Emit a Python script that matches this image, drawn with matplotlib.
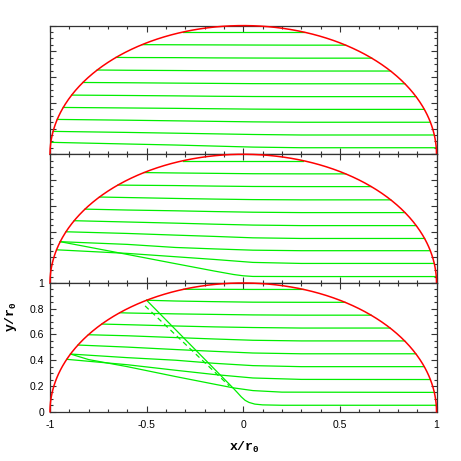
import numpy as np
import matplotlib
matplotlib.use("Agg")
import matplotlib.pyplot as plt
from matplotlib.ticker import MultipleLocator, FuncFormatter

plt.rcParams['mathtext.fontset'] = 'custom'
plt.rcParams['mathtext.rm'] = 'Liberation Mono'
plt.rcParams['mathtext.bf'] = 'Liberation Mono:bold'
plt.rcParams['font.family'] = ['Liberation Sans', 'DejaVu Sans']

# ---------------- data ----------------
# x positions of intermediate samples of each streamline
grid_x = [-0.6, -0.35, -0.15, 0.05, 0.3]

# top panel: start height (left rim), values on grid_x, end height (right rim)
top_start = [0.950, 0.852, 0.753, 0.655, 0.558, 0.460, 0.364, 0.271, 0.178, 0.093]
top_mid = [
    [None, None, 0.950, 0.950, 0.950],
    [None, 0.851, 0.850, 0.849, 0.848],
    [0.752, 0.751, 0.749, 0.748, 0.747],
    [0.653, 0.651, 0.649, 0.648, 0.647],
    [0.556, 0.553, 0.551, 0.549, 0.548],
    [0.457, 0.454, 0.451, 0.449, 0.448],
    [0.360, 0.357, 0.354, 0.351, 0.349],
    [0.265, 0.260, 0.256, 0.252, 0.249],
    [0.170, 0.164, 0.159, 0.154, 0.150],
    [0.080, 0.072, 0.064, 0.056, 0.051],
]
top_end = [0.950, 0.848, 0.747, 0.647, 0.548, 0.448, 0.349, 0.249, 0.150, 0.051]

# middle panel
mid_start = [0.951, 0.858, 0.761, 0.668, 0.574, 0.484, 0.398, 0.321, 0.258]
mid_mid = [
    [None, None, 0.951, 0.951, 0.951],
    [None, 0.855, 0.852, 0.849, 0.848],
    [0.760, 0.757, 0.753, 0.750, 0.749],
    [0.664, 0.657, 0.652, 0.648, 0.646],
    [0.567, 0.561, 0.555, 0.550, 0.547],
    [0.474, 0.465, 0.457, 0.450, 0.446],
    [0.385, 0.372, 0.362, 0.351, 0.346],
    [0.300, 0.276, 0.265, 0.255, 0.251],
    [0.230, 0.204, 0.183, 0.160, 0.152],
]
mid_end = [0.951, 0.848, 0.749, 0.646, 0.547, 0.446, 0.346, 0.251, 0.152]
# middle panel plunging streamline
mid_steep_start = 0.321
mid_steep_x = [-0.6, -0.35, -0.15, -0.05, 0.0, 0.05, 0.3]
mid_steep_y = [0.222, 0.150, 0.093, 0.066, 0.056, 0.051, 0.050]
mid_steep_end = 0.050

# bottom panel
bot_start = [0.951, 0.866, 0.769, 0.681, 0.598, 0.518, 0.448, 0.407]
bot_mid = [
    [None, None, 0.951, 0.950, 0.950],
    [None, 0.860, 0.855, 0.851, 0.850],
    [0.767, 0.760, 0.756, 0.752, 0.750],
    [0.676, 0.666, 0.659, 0.654, 0.650],
    [0.590, 0.576, 0.565, 0.555, 0.550],
    [0.502, 0.483, 0.469, 0.456, 0.450],
    [0.420, 0.400, 0.376, 0.358, 0.350],
    [0.365, 0.322, 0.289, 0.262, 0.251],
]
bot_end = [0.950, 0.850, 0.750, 0.650, 0.550, 0.450, 0.350, 0.250]
# bottom panel: branch from the 0.448 start point down to 0.15
bot_branch_start = 0.448
bot_branch_x = [-0.8, -0.6, -0.35, -0.15, -0.05, 0.05, 0.2]
bot_branch_y = [0.405, 0.350, 0.273, 0.214, 0.185, 0.164, 0.152]
bot_branch_end = 0.150
# bottom panel plunging streamline
bot_steep_start = 0.866
bot_steep_x = [-0.05, -0.03, -0.01, 0.01, 0.03, 0.06, 0.1, 0.2]
bot_steep_y = [0.180, 0.148, 0.115, 0.088, 0.072, 0.059, 0.053, 0.050]
bot_steep_end = 0.050
# dashed reference trajectory
dash_x = [-0.508, -0.072]
dash_y = [0.822, 0.200]

GREEN = '#00ee00'
RED = '#ff0000'

# ---------------- figure ----------------
fig = plt.figure(figsize=(4.61, 4.61), dpi=100)
L, W, H = 50 / 461, 386.5 / 461, 128.7 / 461
B0 = 1 - 411.7 / 461
axes = [fig.add_axes([L, B0 + 2 * H, W, H]),
        fig.add_axes([L, B0 + H, W, H]),
        fig.add_axes([L, B0, W, H])]


def rim_line(ax, y0, mids, y1, xs_custom=None, **kw):
    xs = [-np.sqrt(1 - y0 ** 2)]
    ys = [y0]
    gx = grid_x if xs_custom is None else xs_custom
    for x, y in zip(gx, mids):
        if y is None:
            continue
        xs.append(x)
        ys.append(y)
    xs.append(np.sqrt(1 - y1 ** 2))
    ys.append(y1)
    ax.plot(xs, ys, color=GREEN, lw=0.9, **kw)


for y0, m, y1 in zip(top_start, top_mid, top_end):
    rim_line(axes[0], y0, m, y1)
for y0, m, y1 in zip(mid_start, mid_mid, mid_end):
    rim_line(axes[1], y0, m, y1)
rim_line(axes[1], mid_steep_start, mid_steep_y, mid_steep_end, xs_custom=mid_steep_x)
for y0, m, y1 in zip(bot_start, bot_mid, bot_end):
    rim_line(axes[2], y0, m, y1)
rim_line(axes[2], bot_branch_start, bot_branch_y, bot_branch_end, xs_custom=bot_branch_x)
rim_line(axes[2], bot_steep_start, bot_steep_y, bot_steep_end, xs_custom=bot_steep_x)
axes[2].plot(dash_x, dash_y, color=GREEN, lw=0.9, ls=(0, (4, 3)))

theta = np.linspace(0, np.pi, 400)
fmt = FuncFormatter(lambda v, p: f'{v:g}')
for i, ax in enumerate(axes):
    ax.plot(np.cos(theta), np.sin(theta), color=RED, lw=1.1, clip_on=False, zorder=3)
    ax.set_xlim(-1, 1)
    ax.set_ylim(0, 1)
    ax.xaxis.set_major_locator(MultipleLocator(0.5))
    ax.xaxis.set_minor_locator(MultipleLocator(0.1))
    ax.yaxis.set_major_locator(MultipleLocator(0.2))
    ax.yaxis.set_minor_locator(MultipleLocator(0.05))
    ax.tick_params(which='both', direction='in', top=True, right=True,
                   width=0.8, colors='#333333', labelcolor='black', labelsize=7.5)
    ax.tick_params(which='major', length=4.5)
    ax.tick_params(which='minor', length=2.5)
    ax.tick_params(axis='x', pad=6)
    ax.tick_params(axis='y', pad=4)
    for s in ax.spines.values():
        s.set_linewidth(0.9)
        s.set_color('#333333')
    ax.xaxis.set_major_formatter(fmt)
    ax.yaxis.set_major_formatter(fmt)
    if i < 2:
        ax.tick_params(labelbottom=False, labelleft=False)

ax = axes[2]
ax.set_xlabel(r'$\mathbf{x/r_0}$', fontsize=9.5)
ax.set_ylabel(r'$\mathbf{y/r_0}$', fontsize=9.5)
ax.xaxis.set_label_coords(0.502, -0.22)
ax.yaxis.set_label_coords(-0.08, 0.74)

fig.savefig('out.png', dpi=100)
